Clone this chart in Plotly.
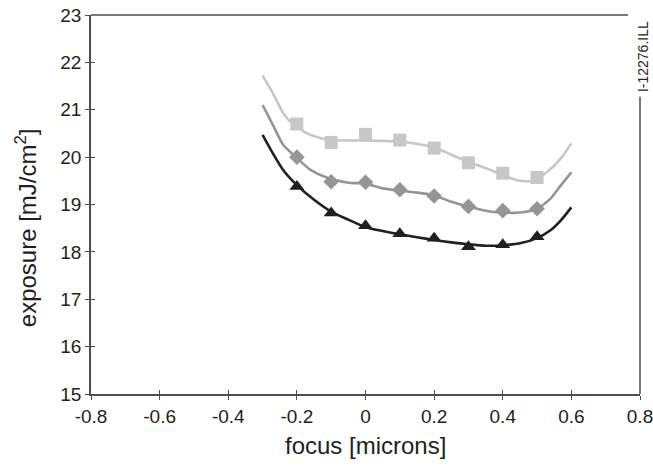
import plotly.graph_objects as go

# measured points
focus_pts = [-0.2, -0.1, 0.0, 0.1, 0.2, 0.3, 0.4, 0.5]
sq_vals = [20.70, 20.31, 20.48, 20.36, 20.19, 19.88, 19.66, 19.57]
di_vals = [20.00, 19.48, 19.47, 19.31, 19.18, 18.96, 18.87, 18.91]
tr_vals = [19.38, 18.82, 18.55, 18.38, 18.29, 18.11, 18.15, 18.32]

# fitted curves
sq_fit_x = [-0.30, -0.27, -0.24, -0.215, -0.17, -0.13, -0.10, 0.0, 0.10, 0.15, 0.20, 0.25, 0.30, 0.35, 0.40, 0.45, 0.49, 0.53, 0.57, 0.60]
sq_fit_y = [21.72, 21.35, 20.93, 20.72, 20.50, 20.40, 20.36, 20.35, 20.33, 20.28, 20.21, 20.05, 19.90, 19.77, 19.62, 19.50, 19.50, 19.69, 19.98, 20.29]

di_fit_x = [-0.30, -0.27, -0.24, -0.20, -0.16, -0.11, -0.05, 0.0, 0.05, 0.10, 0.15, 0.20, 0.25, 0.30, 0.35, 0.40, 0.45, 0.50, 0.54, 0.57, 0.60]
di_fit_y = [21.10, 20.68, 20.26, 19.98, 19.73, 19.56, 19.46, 19.44, 19.34, 19.29, 19.25, 19.19, 19.06, 18.96, 18.87, 18.83, 18.83, 18.91, 19.13, 19.41, 19.68]

tr_fit_x = [-0.30, -0.27, -0.24, -0.20, -0.15, -0.10, -0.05, 0.0, 0.05, 0.10, 0.15, 0.20, 0.25, 0.30, 0.35, 0.40, 0.45, 0.50, 0.54, 0.57, 0.60]
tr_fit_y = [20.47, 20.08, 19.73, 19.41, 19.10, 18.85, 18.68, 18.52, 18.44, 18.37, 18.31, 18.25, 18.20, 18.16, 18.13, 18.14, 18.18, 18.29, 18.46, 18.67, 18.94]

x_ticks = [-0.8, -0.6, -0.4, -0.2, 0, 0.2, 0.4, 0.6, 0.8]
x_tick_text = ["-0.8", "-0.6", "-0.4", "-0.2", "0", "0.2", "0.4", "0.6", "0.8"]
y_ticks = [15, 16, 17, 18, 19, 20, 21, 22, 23]

light = "#c6c7c9"
mid = "#939598"
dark = "#231f20"
axis_col = "#4d4d4d"
font_fam = "Liberation Sans, Arial, sans-serif"

fig = go.Figure()
for fx, fy, col in [(sq_fit_x, sq_fit_y, light), (di_fit_x, di_fit_y, mid), (tr_fit_x, tr_fit_y, dark)]:
    fig.add_trace(go.Scatter(x=fx, y=fy, mode="lines", line=dict(color=col, width=2.6, shape="spline", smoothing=0.6),
                             hoverinfo="skip", showlegend=False))
fig.add_trace(go.Scatter(x=focus_pts, y=sq_vals, mode="markers",
                         marker=dict(symbol="square", size=13, color=light), showlegend=False))
fig.add_trace(go.Scatter(x=focus_pts, y=di_vals, mode="markers",
                         marker=dict(symbol="diamond", size=12, color=mid), showlegend=False))
fig.add_trace(go.Scatter(x=focus_pts, y=tr_vals, mode="markers",
                         marker=dict(symbol="triangle-up", size=13, color=dark), showlegend=False))
# invisible trace for overlay axes (inside tick halves)
fig.add_trace(go.Scatter(x=[0], y=[19], xaxis="x2", yaxis="y2", mode="markers",
                         marker=dict(opacity=0), hoverinfo="skip", showlegend=False))

common = dict(showgrid=False, zeroline=False, tickcolor=axis_col, tickwidth=1, ticklen=4, automargin=False)
fig.update_layout(
    width=653, height=466,
    margin=dict(l=91, r=13, t=15, b=72),
    plot_bgcolor="white", paper_bgcolor="white",
    font=dict(family=font_fam, size=19, color=dark),
    xaxis=dict(range=[-0.8, 0.8], tickvals=x_ticks, ticktext=x_tick_text, ticks="outside",
               showline=True, linecolor=axis_col, linewidth=1.5, ticklabeloverflow="allow",
               tickfont=dict(size=19), **common),
    yaxis=dict(range=[15, 23], tickvals=y_ticks, ticks="outside", showline=True,
               linecolor=axis_col, linewidth=1.5, ticklabeloverflow="allow",
               tickfont=dict(size=19), **common),
    xaxis2=dict(range=[-0.8, 0.8], tickvals=x_ticks, ticks="inside", showticklabels=False,
                overlaying="x", side="bottom", showline=False, **common),
    yaxis2=dict(range=[15, 23], tickvals=y_ticks, ticks="inside", showticklabels=False,
                overlaying="y", side="left", showline=False, **common),
)
# axis titles
fig.add_annotation(text="focus [microns]", xref="paper", yref="paper", x=0.5, y=-0.135,
                   showarrow=False, font=dict(size=24, color=dark), xanchor="center", yanchor="middle")
fig.add_annotation(text="exposure [mJ/cm<sup>2</sup>]", xref="paper", yref="paper", x=-0.118, y=0.438,
                   textangle=-90, showarrow=False, font=dict(size=24, color=dark),
                   xanchor="center", yanchor="middle")
# partial frame: top and right lines, with gap for the file label
fig.add_shape(type="line", xref="paper", yref="paper", x0=0, x1=0.978, y0=1, y1=1,
              line=dict(color=axis_col, width=1.5))
fig.add_shape(type="line", xref="paper", yref="paper", x0=1, x1=1, y0=0, y1=0.784,
              line=dict(color=axis_col, width=1.5))
fig.add_annotation(text="I-12276.ILL", xref="paper", yref="paper", x=1.0055, y=0.889,
                   textangle=-90, showarrow=False, font=dict(size=14, color=dark),
                   xanchor="center", yanchor="middle")
fig.write_html("out.html")
